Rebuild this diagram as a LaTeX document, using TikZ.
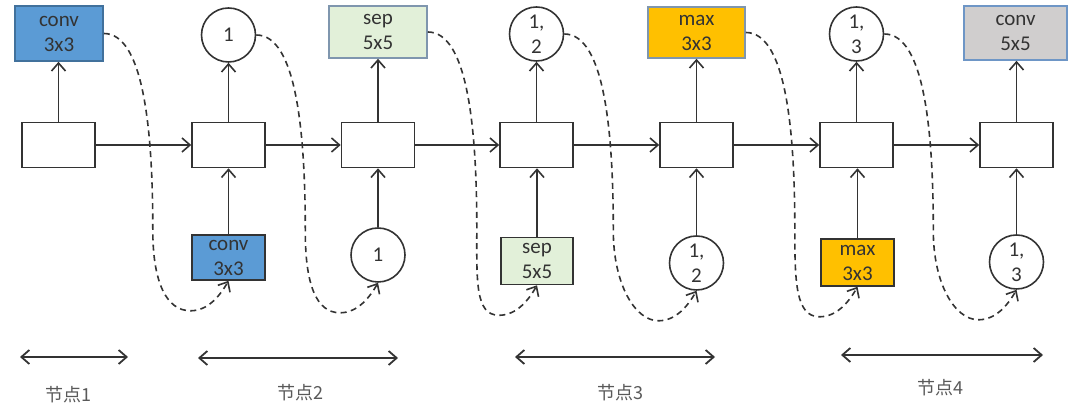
\documentclass[tikz,border=0pt]{standalone}
\usepackage{fontspec}
\setmainfont{Carlito}
\newfontfamily\cjk{Noto Sans CJK SC}
\usetikzlibrary{arrows.meta,calc}
\definecolor{opblue}{HTML}{5B9BD5}
\definecolor{opgreen}{HTML}{E2F0D9}
\definecolor{opgold}{HTML}{FFC000}
\definecolor{opgray}{HTML}{D0CECE}
\definecolor{edgeblue}{HTML}{41719C}
\definecolor{edgesky}{HTML}{6E96C6}
\definecolor{edgeslate}{HTML}{7F96AE}
\definecolor{ink}{HTML}{333333}

\begin{document}
\begin{tikzpicture}[x=0.5pt, y=0.5pt, >={Straight Barb[length=4pt,width=7pt]},
    every node/.style={font=\fontsize{10.5}{12.5}\selectfont, text=ink},
    cell/.style={draw=ink, line width=0.8pt, minimum width=36.5pt, minimum height=22.5pt, inner sep=0pt},
    op/.style={line width=0.8pt, align=center, inner sep=0pt},
    pick/.style={circle, draw=ink, line width=0.8pt, minimum size=27pt, inner sep=0pt, align=center},
    link/.style={->, draw=ink, line width=0.8pt},
    jump/.style={->, dash pattern=on 3pt off 2.2pt, draw=ink, line width=0.8pt},
    span/.style={<->, draw=ink, line width=0.9pt},
    tag/.style={font=\cjk\fontsize{9}{10}\selectfont, text=black!65}]

    \useasboundingbox (0,0) rectangle (1080,415);

    % middle row
    \node[cell] (m0) at (58.5,270) {};
    \node[cell] (m1) at (228.5,270) {};
    \node[cell] (m2) at (378,270) {};
    \node[cell] (m3) at (536.5,270) {};
    \node[cell] (m4) at (696.5,270) {};
    \node[cell] (m5) at (856.5,270) {};
    \node[cell] (m6) at (1016.5,270) {};

    % top row
    \node[op, draw=edgeblue, fill=opblue, minimum width=44pt, minimum height=27.5pt] (t0) at (59,381.5) {conv\\3x3};
    \node[pick] (t1) at (228.5,380) {1};
    \node[op, draw=edgeslate, fill=opgreen, minimum width=49pt, minimum height=26pt] (t2) at (378,383) {sep\\5x5};
    \node[pick] (t3) at (536.5,381) {1,\\2};
    \node[op, draw=edgeslate, fill=opgold, minimum width=48.5pt, minimum height=25.5pt] (t4) at (696.5,382.5) {max\\3x3};
    \node[pick] (t5) at (856.5,381) {1,\\3};
    \node[op, draw=edgesky, fill=opgray, minimum width=51.5pt, minimum height=27pt] (t6) at (1015.5,382) {conv\\5x5};

    % bottom row
    \node[op, draw=ink, fill=opblue, minimum width=36.5pt, minimum height=22.5pt] (b1) at (228.5,157.5) {conv\\3x3};
    \node[pick] (b2) at (378,160) {1};
    \node[op, draw=ink, fill=opgreen, minimum width=36pt, minimum height=23.5pt] (b3) at (537,154) {sep\\5x5};
    \node[pick] (b4) at (696.5,152) {1,\\2};
    \node[op, draw=ink, fill=opgold, minimum width=36.5pt, minimum height=23.5pt] (b5) at (857.5,152.5) {max\\3x3};
    \node[pick] (b6) at (1016.5,153) {1,\\3};

    \foreach \i in {0,...,6}
      \draw[link] (m\i) -- (m\i |- t\i.south);
    \foreach \i in {1,...,6}
      \draw[link] (b\i) -- (b\i |- m\i.south);
    \foreach \i [count=\j from 1] in {0,...,5}
      \draw[link] (m\i) -- (m\j);

    % skip connections
    \foreach \s/\t in {t0/b1, t1/b2, t2/b3, t3/b4, t4/b5, t5/b6}
      \draw[jump] (\s.east) .. controls +(40,0) and +(0,100) .. ($(\s.east)+(49,-197)$)
        .. controls +(0,-52) and +(-24,0) .. ($(\t.south)+(-38,-30)$)
        .. controls +(18,0) and +(-8,-14) .. (\t.south);

    % cells
    \foreach \k/\a/\b/\y/\c/\ly in {1/20/128/58/68/20, 2/198/398/57/300/22, 3/515/715/58/620/22, 4/841/1043/60/940/27} {
      \coordinate (n\k a) at (\a,\y);
      \coordinate (n\k b) at (\b,\y);
      \draw[span] (n\k a) -- (n\k b);
      \node[tag] (n\k) at (\c,\ly) {节点\k};
    }
\end{tikzpicture}
\end{document}
